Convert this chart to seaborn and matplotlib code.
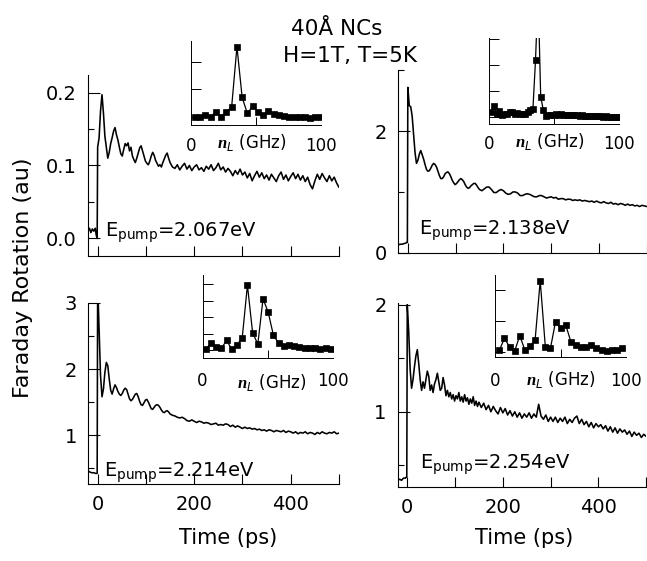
import numpy as np
import pandas as pd
import matplotlib
matplotlib.use("Agg")
import matplotlib.pyplot as plt
import seaborn as sns

# ---------------- data ----------------
# time sampling grids (ps)
t_early = np.arange(0, 151, 3)     # 51 samples
t_late = np.arange(155, 501, 5)    # 70 samples

# --- E_pump = 2.067 eV (top left)
tl_pre_t = [-20, -17, -14, -11, -8, -5, -3, -1]
tl_pre_v = [0.010, 0.014, 0.008, 0.013, 0.010, 0.014, 0.005, 0.000]
tl_early = [0.125, 0.138, 0.175, 0.197, 0.172, 0.140, 0.125, 0.110, 0.118, 0.130,
            0.138, 0.147, 0.152, 0.142, 0.135, 0.125, 0.116, 0.113, 0.122, 0.130,
            0.127, 0.131, 0.120, 0.125, 0.113, 0.108, 0.104, 0.110, 0.117, 0.124,
            0.127, 0.120, 0.113, 0.106, 0.103, 0.101, 0.106, 0.113, 0.118, 0.114,
            0.107, 0.103, 0.099, 0.101, 0.098, 0.104, 0.109, 0.114, 0.117, 0.110,
            0.104]
tl_late = [0.098, 0.096, 0.101, 0.094, 0.099, 0.103, 0.095, 0.100, 0.093, 0.098,
           0.101, 0.094, 0.097, 0.092, 0.099, 0.095, 0.101, 0.093, 0.097, 0.103,
           0.094, 0.098, 0.091, 0.096, 0.092, 0.086, 0.093, 0.088, 0.095, 0.087,
           0.091, 0.083, 0.089, 0.079, 0.086, 0.092, 0.084, 0.090, 0.082, 0.087,
           0.080, 0.088, 0.083, 0.078, 0.086, 0.091, 0.081, 0.087, 0.079, 0.085,
           0.090, 0.082, 0.088, 0.080, 0.086, 0.078, 0.084, 0.074, 0.068, 0.079,
           0.088, 0.081, 0.089, 0.083, 0.078, 0.086, 0.079, 0.084, 0.076, 0.070]

# --- E_pump = 2.138 eV (top right)
tr_pre_t = [-20, -16, -12, -8, -4, -2, -1]
tr_pre_v = [0.13, 0.14, 0.14, 0.15, 0.16, 0.17, 0.17]
tr_early = [2.72, 2.42, 2.40, 2.25, 1.95, 1.65, 1.47, 1.52, 1.62, 1.68,
            1.61, 1.54, 1.45, 1.37, 1.34, 1.35, 1.39, 1.44, 1.47, 1.45,
            1.41, 1.34, 1.27, 1.22, 1.22, 1.25, 1.30, 1.32, 1.33, 1.30,
            1.25, 1.19, 1.15, 1.12, 1.14, 1.17, 1.20, 1.22, 1.20, 1.17,
            1.12, 1.08, 1.06, 1.07, 1.10, 1.12, 1.14, 1.14, 1.11, 1.07,
            1.04]
tr_late = [1.02, 1.05, 1.08, 1.08, 1.04, 0.99, 0.99, 1.02, 1.04, 1.02,
           0.98, 0.96, 0.97, 1.00, 1.00, 0.98, 0.94, 0.94, 0.96, 0.97,
           0.96, 0.94, 0.92, 0.92, 0.94, 0.94, 0.92, 0.90, 0.91, 0.92,
           0.90, 0.91, 0.88, 0.89, 0.89, 0.87, 0.88, 0.88, 0.86, 0.87,
           0.86, 0.87, 0.85, 0.86, 0.85, 0.84, 0.85, 0.83, 0.85, 0.83,
           0.82, 0.84, 0.82, 0.81, 0.83, 0.80, 0.81, 0.79, 0.81, 0.80,
           0.78, 0.80, 0.78, 0.79, 0.77, 0.78, 0.76, 0.78, 0.77, 0.76]

# --- E_pump = 2.214 eV (bottom left)
bl_pre_t = [-20, -16, -12, -8, -4, -2, -1]
bl_pre_v = [0.46, 0.44, 0.43, 0.43, 0.42, 0.42, 0.42]
bl_early = [3.30, 2.60, 1.90, 1.58, 1.70, 1.95, 2.10, 2.05, 1.85, 1.68,
            1.62, 1.70, 1.76, 1.72, 1.66, 1.62, 1.60, 1.63, 1.68, 1.71,
            1.69, 1.62, 1.55, 1.52, 1.54, 1.58, 1.62, 1.63, 1.58, 1.51,
            1.46, 1.45, 1.49, 1.53, 1.54, 1.50, 1.45, 1.40, 1.39, 1.42,
            1.45, 1.46, 1.45, 1.42, 1.38, 1.35, 1.34, 1.36, 1.37, 1.35,
            1.32]
bl_late = [1.30, 1.29, 1.27, 1.26, 1.27, 1.25, 1.22, 1.21, 1.23, 1.21,
           1.19, 1.21, 1.20, 1.18, 1.19, 1.18, 1.16, 1.17, 1.18, 1.15,
           1.16, 1.15, 1.17, 1.16, 1.13, 1.15, 1.12, 1.14, 1.12, 1.10,
           1.12, 1.10, 1.11, 1.09, 1.10, 1.08, 1.09, 1.07, 1.08, 1.06,
           1.08, 1.07, 1.05, 1.07, 1.06, 1.05, 1.07, 1.04, 1.06, 1.05,
           1.03, 1.05, 1.02, 1.04, 1.03, 1.05, 1.02, 1.04, 1.03, 1.01,
           1.04, 1.02, 1.05, 1.03, 1.02, 1.04, 1.03, 1.05, 1.02, 1.03]

# --- E_pump = 2.254 eV (bottom right)
br_pre_t = [-20, -16, -12, -8, -4, -2, -1]
br_pre_v = [0.36, 0.37, 0.36, 0.38, 0.38, 0.39, 0.39]
br_early = [2.00, 1.75, 1.40, 1.22, 1.30, 1.42, 1.52, 1.58, 1.45, 1.30,
            1.20, 1.28, 1.22, 1.30, 1.38, 1.33, 1.20, 1.25, 1.18, 1.26,
            1.30, 1.36, 1.28, 1.20, 1.22, 1.32, 1.25, 1.15, 1.20, 1.14,
            1.18, 1.12, 1.16, 1.10, 1.15, 1.12, 1.18, 1.10, 1.14, 1.09,
            1.16, 1.10, 1.13, 1.07, 1.12, 1.08, 1.14, 1.06, 1.10, 1.05,
            1.09]
br_late = [1.04, 1.08, 1.02, 1.06, 1.00, 1.05, 1.01, 0.98, 1.04, 0.99,
           1.03, 0.97, 1.01, 0.96, 1.00, 0.95, 0.99, 0.94, 0.98, 0.95,
           0.99, 0.94, 0.98, 0.95, 1.07, 0.96, 0.93, 0.97, 0.91, 0.95,
           0.91, 0.95, 0.90, 0.94, 0.91, 0.95, 0.89, 0.93, 0.90, 0.94,
           0.96, 0.89, 0.93, 0.88, 0.91, 0.86, 0.90, 0.85, 0.89, 0.86,
           0.88, 0.84, 0.87, 0.82, 0.86, 0.81, 0.85, 0.80, 0.84, 0.81,
           0.83, 0.79, 0.82, 0.77, 0.81, 0.78, 0.80, 0.76, 0.79, 0.77]

# --- inset spectra (frequency in GHz, amplitude in arbitrary units)
tl_f = [3.3, 7.3, 11.4, 15.4, 19.4, 23.5, 27.5, 31.5, 35.6, 39.6, 43.6, 47.6, 51.7,
        55.7, 59.7, 63.8, 67.8, 71.8, 75.8, 79.9, 83.9, 87.9, 91.9, 96.0, 100.0]
tl_a = [0.01, 0.01, 0.07, 0.01, 0.19, 0.01, 0.19, 0.35, 2.54, 0.71, 0.13, 0.39, 0.19,
        0.07, 0.22, 0.11, 0.07, 0.03, 0.01, -0.01, -0.01, -0.01, -0.02, -0.01, -0.01]

tr_f = [1.6, 3.6, 5.6, 7.6, 9.6, 11.6, 13.6, 15.6, 17.6, 19.6,
        21.6, 23.6, 25.6, 27.6, 29.6, 31.6, 33.6, 35.6, 37.6, 39.6,
        41.6, 43.6, 45.6, 47.6, 49.6, 51.6, 53.6, 55.6, 57.6, 59.6,
        61.6, 63.6, 65.6, 67.6, 69.6, 71.6, 73.6, 75.6, 77.6, 79.6,
        81.6, 83.6, 85.6, 87.6, 89.6, 91.6, 93.6, 95.6, 97.6, 99.6]
tr_a = [0.20, 0.42, 0.12, 0.22, 0.08, 0.12, 0.10, 0.20, 0.18, 0.12,
        0.14, 0.12, 0.10, 0.12, 0.18, 0.26, 0.30, 2.19, 4.80, 0.78,
        0.27, 0.04, 0.06, 0.07, 0.08, 0.10, 0.09, 0.10, 0.09, 0.08,
        0.07, 0.08, 0.07, 0.06, 0.05, 0.06, 0.05, 0.04, 0.05, 0.04,
        0.03, 0.04, 0.03, 0.02, 0.03, 0.02, 0.02, 0.01, 0.02, 0.01]

bl_f = [2.5, 6.5, 10.5, 14.5, 18.5, 22.5, 26.5, 30.5, 34.5, 38.5, 42.5, 46.5, 50.5,
        54.5, 58.5, 62.5, 66.5, 70.5, 74.5, 78.5, 82.5, 86.5, 90.5, 94.5, 98.5]
bl_a = [0.07, 0.44, 0.20, 0.13, 0.60, 0.07, 0.34, 0.75, 3.94, 1.06, 0.38, 3.12, 2.29,
        0.90, 0.44, 0.24, 0.34, 0.28, 0.20, 0.15, 0.12, 0.13, 0.10, 0.12, 0.10]

br_f = [3.3, 7.2, 11.1, 15.0, 18.9, 22.8, 26.7, 30.6, 34.5, 38.4, 42.3, 46.2, 50.1,
        54.0, 57.9, 61.8, 65.7, 69.6, 73.5, 77.4, 81.3, 85.2, 89.1, 93.0, 96.9]
br_a = [0.06, 0.44, 0.17, 0.03, 0.53, 0.06, 0.20, 0.39, 2.30, 0.17, 0.12, 0.98, 0.76,
        0.87, 0.33, 0.23, 0.17, 0.17, 0.23, 0.14, 0.06, 0.03, 0.06, 0.08, 0.12]

energy_labels = ["2.067eV", "2.138eV", "2.214eV", "2.254eV"]
time_ticks = [0, 100, 200, 300, 400, 500]
time_ticklabels = ["0", "", "200", "", "400", ""]

# ---------------- style ----------------
sns.set_theme(style="ticks", rc={
    "axes.edgecolor": "black", "xtick.color": "black", "ytick.color": "black",
    "text.color": "black", "axes.labelcolor": "black",
})
plt.rcParams["font.family"] = ["DejaVu Sans"]
plt.rcParams["mathtext.fontset"] = "custom"
plt.rcParams["mathtext.rm"] = "DejaVu Sans"
plt.rcParams["mathtext.it"] = "DejaVu Sans:italic"
plt.rcParams["mathtext.bf"] = "Liberation Serif:italic:bold"
has_bfit = "mathtext.bfit" in plt.rcParams
if has_bfit:
    plt.rcParams["mathtext.bfit"] = "Liberation Serif:italic:bold"
nu_label = (r"$\mathbfit{n}_{\mathit{L}}$ (GHz)" if has_bfit
            else r"$\mathbf{n}_{\mathit{L}}$ (GHz)")

fig = plt.figure(figsize=(6.47, 5.61), dpi=100)

panels = [
    dict(rect=[0.1360, 0.5437, 0.3880, 0.3226], pre_t=tl_pre_t, pre_v=tl_pre_v,
         early=tl_early, late=tl_late, ylim=(-0.024, 0.224),
         major=[0.0, 0.1, 0.2], majlab=["0.0", "0.1", "0.2"], minor=[0.05, 0.15],
         xlab=False, epos=(15, 0.002)),
    dict(rect=[0.6156, 0.5495, 0.3840, 0.3251], pre_t=tr_pre_t, pre_v=tr_pre_v,
         early=tr_early, late=tr_late, ylim=(0.0, 3.0),
         major=[0, 2], majlab=["0", "2"], minor=[1, 3],
         xlab=False, epos=(23.8, 0.291)),
    dict(rect=[0.1360, 0.1373, 0.3880, 0.3226], pre_t=bl_pre_t, pre_v=bl_pre_v,
         early=bl_early, late=bl_late, ylim=(0.26, 3.0),
         major=[1, 2, 3], majlab=["1", "2", "3"], minor=[0.5, 1.5, 2.5],
         xlab=True, epos=(13, 0.368)),
    dict(rect=[0.6147, 0.1324, 0.3840, 0.3269], pre_t=br_pre_t, pre_v=br_pre_v,
         early=br_early, late=br_late, ylim=(0.30, 2.013),
         major=[1, 2], majlab=["1", "2"], minor=[0.5, 1.5],
         xlab=True, epos=(26.5, 0.471)),
]

for p, elab in zip(panels, energy_labels):
    ax = fig.add_axes(p["rect"])
    t = np.concatenate([np.asarray(p["pre_t"], float), t_early, t_late])
    v = np.concatenate([p["pre_v"], p["early"], p["late"]])
    df = pd.DataFrame({"t": t, "v": v})
    sns.lineplot(data=df, x="t", y="v", ax=ax, color="black", lw=1.15,
                 estimator=None, sort=False)
    ax.set_xlim(-20, 500)
    ax.set_ylim(*p["ylim"])
    ax.set_xlabel("")
    ax.set_ylabel("")
    for s in ["top", "right"]:
        ax.spines[s].set_visible(False)
    for s in ["left", "bottom"]:
        ax.spines[s].set_linewidth(0.8)
    ax.set_xticks(time_ticks)
    ax.set_xticklabels(time_ticklabels if p["xlab"] else [""] * len(time_ticks))
    ax.set_yticks(p["major"])
    ax.set_yticklabels(p["majlab"])
    ax.set_yticks(p["minor"], minor=True)
    ax.tick_params(which="major", direction="in", length=8.5, width=0.8,
                   labelsize=14, pad=8)
    ax.tick_params(which="minor", direction="in", length=4, width=0.8)
    ax.tick_params(axis="x", which="major", length=7.5)
    ax.text(p["epos"][0], p["epos"][1], "E$_{\\mathrm{pump}}$=" + elab,
            fontsize=14, ha="left", va="baseline")

insets = [
    dict(rect=[0.2947, 0.7772, 0.2009, 0.1503], f=tl_f, a=tl_a, ylim=(-0.29, 2.76),
         yt=[0, 1, 2], pad=8.5, lx=0.468, ly=-0.273),
    dict(rect=[0.7563, 0.7784, 0.2005, 0.1533], f=tr_f, a=tr_a, ylim=(-0.28, 3.03),
         yt=[0, 1, 2, 3], pad=7.7, lx=0.468, ly=-0.258),
    dict(rect=[0.3130, 0.3624, 0.2012, 0.1474], f=bl_f, a=bl_a, ylim=(-0.44, 4.55),
         yt=[0, 1, 2, 3, 4], pad=10, lx=0.53, ly=-0.37),
    dict(rect=[0.7651, 0.3636, 0.2025, 0.1462], f=br_f, a=br_a, ylim=(-0.16, 2.48),
         yt=[0, 1, 2], pad=10.5, lx=0.50, ly=-0.345),
]

for q in insets:
    ai = fig.add_axes(q["rect"])
    ai.set_facecolor("none")
    sns.lineplot(x=q["f"], y=q["a"], ax=ai, color="black", lw=0.9, marker="s",
                 markersize=4.2, markeredgecolor="black", markeredgewidth=0.5,
                 estimator=None, sort=False)
    ai.set_xlim(0, 100)
    ai.set_ylim(*q["ylim"])
    for s in ["top", "right"]:
        ai.spines[s].set_visible(False)
    for s in ["left", "bottom"]:
        ai.spines[s].set_linewidth(0.7)
    ai.set_xticks([0, 100])
    ai.set_xticklabels(["0", "100"])
    ai.set_xticks([50], minor=True)
    ai.set_yticks(q["yt"])
    ai.set_yticklabels([])
    ai.tick_params(axis="x", which="major", length=0, labelsize=12, pad=q["pad"])
    ai.tick_params(axis="x", which="minor", direction="in", length=6, width=0.7)
    ai.tick_params(axis="y", which="major", direction="in", length=7, width=0.7)
    ai.set_xlabel("")
    ai.set_ylabel("")
    ai.text(q["lx"], q["ly"], nu_label, transform=ai.transAxes, fontsize=12,
            ha="center", va="baseline")

fig.text(0.520, 0.9376, "40Å NCs", fontsize=15.5, ha="center", va="baseline")
fig.text(0.5417, 0.890, "H=1T, T=5K", fontsize=15.5, ha="center", va="baseline")
fig.text(0.0355, 0.5045, "Faraday Rotation (au)", fontsize=16, rotation=90,
         ha="center", va="center")
fig.text(0.3524, 0.0303, "Time (ps)", fontsize=15, ha="center", va="baseline")
fig.text(0.8100, 0.0303, "Time (ps)", fontsize=15, ha="center", va="baseline")

fig.savefig("out.png", dpi=100)
